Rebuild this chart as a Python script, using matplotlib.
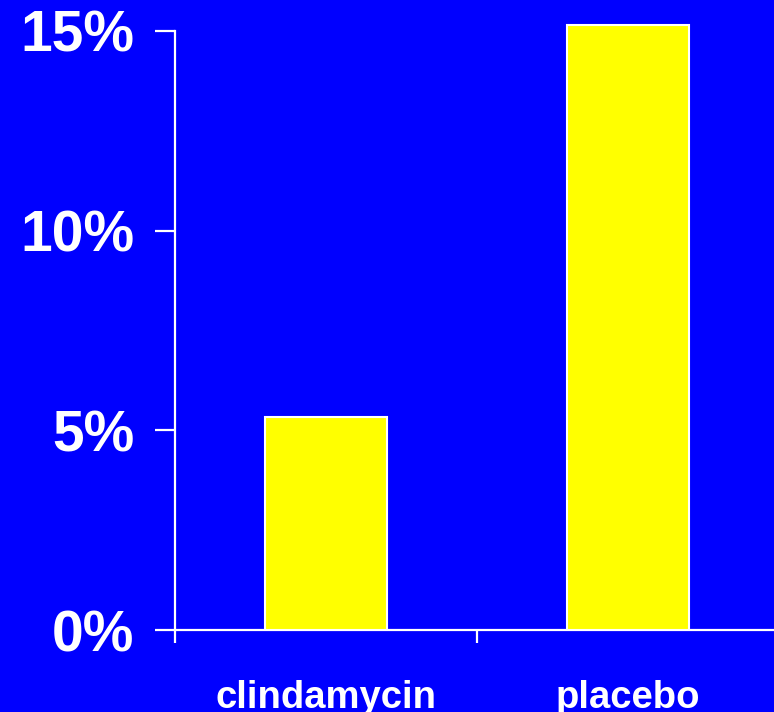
import matplotlib
matplotlib.use("Agg")
import matplotlib.pyplot as plt

categories = ["clindamycin", "placebo"]
values = [5.33, 15.15]
yticks = [0, 5, 10, 15]
ytick_labels = ["0%", "5%", "10%", "15%"]

BLUE = "#0000FF"
YELLOW = "#FFFF00"
WHITE = "#FFFFFF"

plt.rcParams['font.family'] = ['Liberation Sans', 'DejaVu Sans']
plt.rcParams['font.weight'] = 'bold'

fig = plt.figure(figsize=(7.74, 7.12), dpi=100, facecolor=BLUE)
ax = fig.add_axes([175/774, 1 - 630/712, 604/774, 619/712])
ax.set_facecolor(BLUE)

xpos = [0.5, 1.5]
ax.bar(xpos, values, width=0.404, color=YELLOW, edgecolor=WHITE, linewidth=1.5, zorder=3)

ax.set_xlim(0, 2)
ax.set_ylim(0, 15.5)

for s in ["top", "right"]:
    ax.spines[s].set_visible(False)
for s in ["left", "bottom"]:
    ax.spines[s].set_color(WHITE)
    ax.spines[s].set_linewidth(1.6)
ax.spines["left"].set_bounds(0, 15)

ax.set_yticks(yticks)
ax.set_yticklabels(ytick_labels, fontsize=41, fontweight='bold', color=WHITE)
ax.tick_params(axis='y', length=14.4, width=1.6, color=WHITE, pad=15)

ax.set_xticks([0, 1])
ax.set_xticklabels([])
ax.tick_params(axis='x', length=9.4, width=1.6, color=WHITE)
for x, c in zip(xpos, categories):
    ax.text(x, -0.080, c, transform=ax.get_xaxis_transform(), ha='center', va='top',
            fontsize=27.5, fontweight='bold', color=WHITE)

fig.savefig("out.png", dpi=100, facecolor=BLUE)
